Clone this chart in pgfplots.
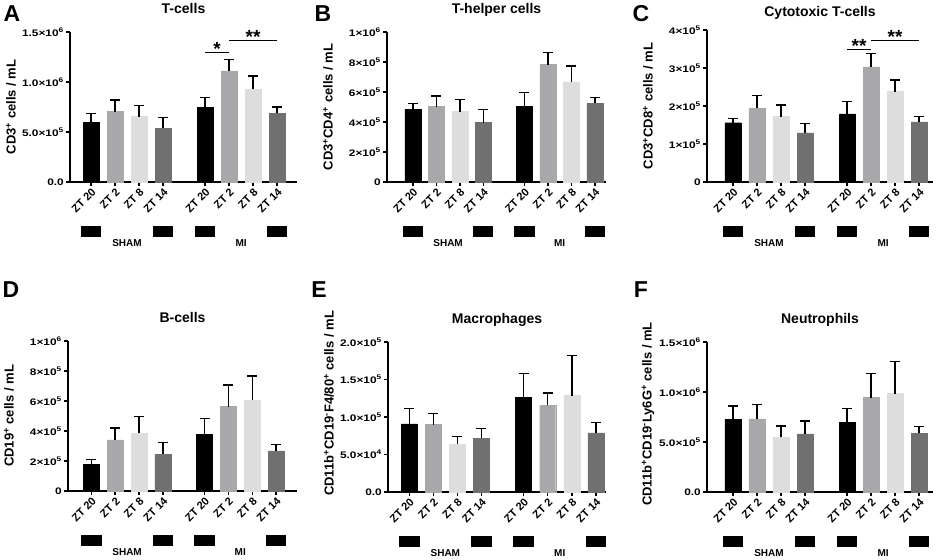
\documentclass[border=0pt]{standalone}
\usepackage{fontspec}
\setmainfont{Liberation Sans}
\newfontfamily\widefont[FakeStretch=1.25]{Liberation Sans}
\usepackage{pgfplots}
\pgfplotsset{compat=1.18}
\definecolor{c1}{RGB}{0,0,0}
\definecolor{c2}{RGB}{168,168,170}
\definecolor{c3}{RGB}{221,221,221}
\definecolor{c4}{RGB}{112,112,112}
\newcommand{\fs}[1]{\bfseries\fontsize{#1}{#1}\selectfont}
\newcommand{\sx}[2]{#1×10\textsuperscript{#2}}
\pgfplotsset{
 panel/.style={
  scale only axis, clip=false,
  axis x line*=bottom, axis y line*=left,
  axis line style={line width=1.4pt, -},
  tick align=outside, major tick length=4pt,
  tick style={black, line width=1.4pt},
  ymin=0, enlargelimits=false,
  scaled y ticks=false,
  xtick={0,1,2,3,4.75,5.75,6.75,7.75},
  xticklabels={ZT 20,ZT 2,ZT 8,ZT 14,ZT 20,ZT 2,ZT 8,ZT 14},
  xticklabel style={rotate=45, anchor=north east, font=\fs{11}, inner sep=1pt},
  yticklabel style={font=\widefont\fs{9.5}, inner sep=2pt},
  title style={font=\fs{14}, at={(0.5,1)}, anchor=base, yshift=12.3pt},
  every axis y label/.style={at={([xshift=-59pt]axis description cs:0,0.5)}, rotate=90, anchor=center, font=\fs{13}},
 },
 barplot/.style={ybar, bar width=16pt, bar shift=0pt, fill=#1, draw=#1,
   error bars/.cd, y dir=plus, y explicit,
   error bar style={black, line width=1.4pt},
   error mark options={black, line width=1.4pt, mark size=5pt, rotate=90}},
}
\newcommand{\groups}{%
 \fill ([yshift=-44pt]axis cs:-0.43,0) rectangle ([yshift=-55pt]axis cs:0.43,0);
 \fill ([yshift=-44pt]axis cs:2.57,0) rectangle ([yshift=-55pt]axis cs:3.43,0);
 \fill ([yshift=-44pt]axis cs:4.32,0) rectangle ([yshift=-55pt]axis cs:5.18,0);
 \fill ([yshift=-44pt]axis cs:7.32,0) rectangle ([yshift=-55pt]axis cs:8.18,0);
 \node[font=\fs{10}] at ([yshift=-61pt]axis cs:1.5,0) {SHAM};
 \node[font=\fs{10}] at ([yshift=-61pt]axis cs:6.25,0) {MI};
}
\newcommand{\sig}[4]{% x1,x2,y,text
 \draw[line width=1.2pt] (axis cs:#1,#3) -- (axis cs:#2,#3);
 \node[font=\fs{19}, anchor=base, inner sep=0pt, yshift=-3pt] at (axis cs:{(#1+#2)/2},#3) {#4};
}
\begin{document}
\begin{tikzpicture}
\path[use as bounding box] (0pt,0pt) rectangle (941pt,559pt);
% Panel letters
\node[font=\fs{23}] at (12pt,545.5pt) {A};
\node[font=\fs{23}] at (323pt,545.5pt) {B};
\node[font=\fs{23}] at (641pt,545.5pt) {C};
\node[font=\fs{23}] at (11pt,269pt) {D};
\node[font=\fs{23}] at (319pt,269pt) {E};
\node[font=\fs{23}] at (641pt,269pt) {F};

% A
\begin{axis}[panel, at={(70pt,377pt)}, anchor=south west, width=227pt, height=150pt,
  xmin=-0.875, xmax=8.58, ymax=1500000,
  ytick={0,500000,1000000,1500000},
  yticklabels={0.0,\sx{5.0}{5},\sx{1.0}{6},\sx{1.5}{6}},
  title={T-cells}, ylabel={CD3\textsuperscript{+} cells / mL}]
\addplot[barplot=c1] coordinates {(0,597000) +- (0,90000) (4.75,746000) +- (0,97000)};
\addplot[barplot=c2] coordinates {(1,703000) +- (0,117000) (5.75,1111000) +- (0,113000)};
\addplot[barplot=c3] coordinates {(2,654000) +- (0,112000) (6.75,926000) +- (0,132000)};
\addplot[barplot=c4] coordinates {(3,537000) +- (0,110000) (7.75,687000) +- (0,63000)};
\groups
\sig{4.75}{5.75}{1294000}{*}
\sig{5.75}{7.75}{1417000}{**}
\end{axis}

% B
\begin{axis}[panel, at={(387pt,377pt)}, anchor=south west, width=219pt, height=150pt,
  xmin=-1.1, xmax=8.22, ymax=1000000,
  ytick={0,200000,400000,600000,800000,1000000},
  yticklabels={0,\sx{2}{5},\sx{4}{5},\sx{6}{5},\sx{8}{5},\sx{1}{6}},
  title={T-helper cells}, ylabel={CD3\textsuperscript{+}CD4\textsuperscript{+} cells / mL}]
\addplot[barplot=c1] coordinates {(0,484000) +- (0,40000) (4.75,502000) +- (0,93000)};
\addplot[barplot=c2] coordinates {(1,502000) +- (0,71000) (5.75,783000) +- (0,80000)};
\addplot[barplot=c3] coordinates {(2,469000) +- (0,82000) (6.75,668000) +- (0,104000)};
\addplot[barplot=c4] coordinates {(3,396000) +- (0,88000) (7.75,524000) +- (0,40000)};
\groups
\end{axis}

% C
\begin{axis}[panel, at={(707pt,377pt)}, anchor=south west, width=226pt, height=152pt,
  xmin=-1.08, xmax=8.33, ymax=400000,
  ytick={0,100000,200000,300000,400000},
  yticklabels={0,\sx{1}{5},\sx{2}{5},\sx{3}{5},\sx{4}{5}},
  title style={yshift=-5pt},
  title={Cytotoxic T-cells}, ylabel={CD3\textsuperscript{+}CD8\textsuperscript{+} cells / mL}]
\addplot[barplot=c1] coordinates {(0,156000) +- (0,11000) (4.75,179000) +- (0,33000)};
\addplot[barplot=c2] coordinates {(1,194000) +- (0,34000) (5.75,303000) +- (0,35000)};
\addplot[barplot=c3] coordinates {(2,172000) +- (0,31000) (6.75,238000) +- (0,30000)};
\addplot[barplot=c4] coordinates {(3,129000) +- (0,25000) (7.75,158000) +- (0,15000)};
\groups
\sig{4.75}{5.75}{348000}{**}
\sig{5.75}{7.75}{372000}{**}
\end{axis}

% D
\begin{axis}[panel, at={(68pt,68pt)}, anchor=south west, width=229pt, height=150pt,
  xmin=-0.98, xmax=8.63, ymax=1000000,
  ytick={0,200000,400000,600000,800000,1000000},
  yticklabels={0,\sx{2}{5},\sx{4}{5},\sx{6}{5},\sx{8}{5},\sx{1}{6}},
  title={B-cells}, ylabel={CD19\textsuperscript{+} cells / mL}]
\addplot[barplot=c1] coordinates {(0,177000) +- (0,31000) (4.75,377000) +- (0,106000)};
\addplot[barplot=c2] coordinates {(1,341000) +- (0,80000) (5.75,563000) +- (0,144000)};
\addplot[barplot=c3] coordinates {(2,386000) +- (0,111000) (6.75,607000) +- (0,160000)};
\addplot[barplot=c4] coordinates {(3,246000) +- (0,76000) (7.75,268000) +- (0,40000)};
\groups
\end{axis}

% E
\begin{axis}[panel, at={(388pt,67pt)}, anchor=south west, width=218pt, height=150pt,
  xmin=-0.88, xmax=8.17, ymax=200000,
  ytick={0,50000,100000,150000,200000},
  yticklabels={0.0,\sx{5.0}{4},\sx{1.0}{5},\sx{1.5}{5},\sx{2.0}{5}},
  every axis y label/.append style={at={([xshift=-59pt]axis description cs:0,0.59)}},
  title={Macrophages}, ylabel={CD11b\textsuperscript{+}CD19\textsuperscript{-}F4/80\textsuperscript{+} cells / mL}]
\addplot[barplot=c1] coordinates {(0,90800) +- (0,20800) (4.75,125800) +- (0,31900)};
\addplot[barplot=c2] coordinates {(1,89900) +- (0,14700) (5.75,115600) +- (0,16400)};
\addplot[barplot=c3] coordinates {(2,63800) +- (0,10200) (6.75,128500) +- (0,53100)};
\addplot[barplot=c4] coordinates {(3,71800) +- (0,13200) (7.75,78900) +- (0,14100)};
\groups
\end{axis}

% F
\begin{axis}[panel, at={(707pt,67pt)}, anchor=south west, width=226pt, height=150pt,
  xmin=-1.08, xmax=8.33, ymax=1500000,
  ytick={0,500000,1000000,1500000},
  yticklabels={0.0,\sx{5.0}{5},\sx{1.0}{6},\sx{1.5}{6}},
  every axis y label/.append style={at={([xshift=-59pt]axis description cs:0,0.52)}},
  title={Neutrophils}, ylabel={CD11b\textsuperscript{+}CD19\textsuperscript{-}Ly6G\textsuperscript{+} cells / mL}]
\addplot[barplot=c1] coordinates {(0,727000) +- (0,133000) (4.75,697000) +- (0,140000)};
\addplot[barplot=c2] coordinates {(1,730000) +- (0,147000) (5.75,943000) +- (0,244000)};
\addplot[barplot=c3] coordinates {(2,547000) +- (0,113000) (6.75,983000) +- (0,320000)};
\addplot[barplot=c4] coordinates {(3,580000) +- (0,130000) (7.75,587000) +- (0,70000)};
\groups
\end{axis}
\end{tikzpicture}
\end{document}
